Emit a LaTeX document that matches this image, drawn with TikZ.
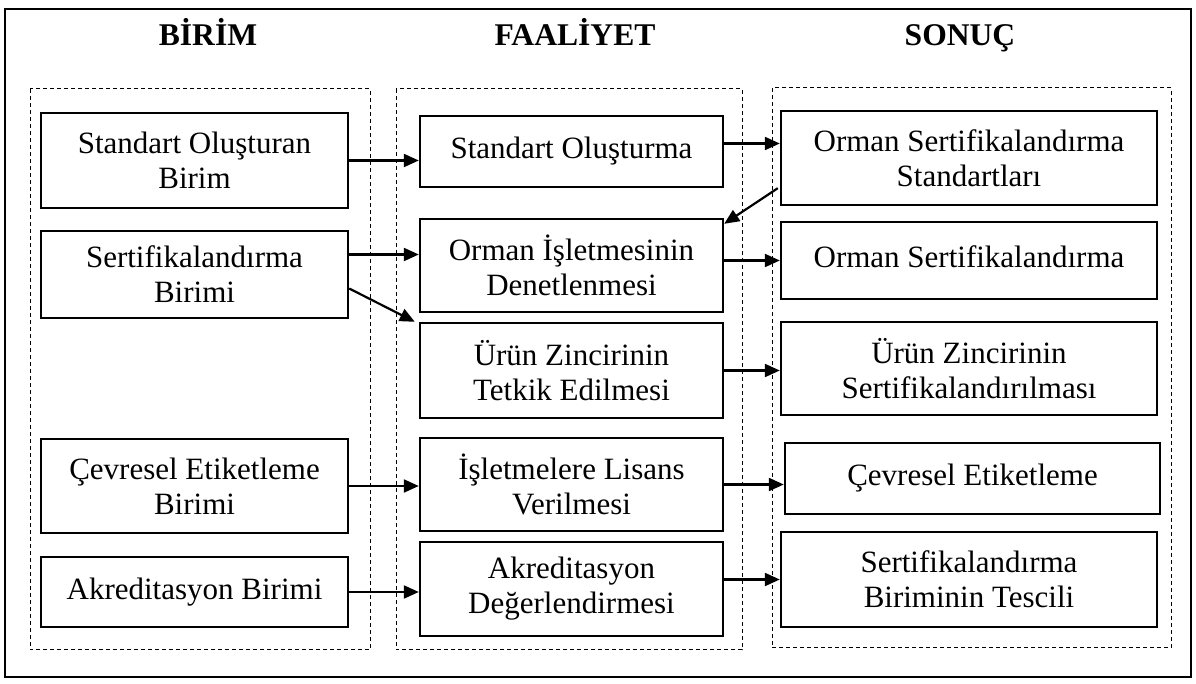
\documentclass[tikz,border=0pt]{standalone}
\usepackage{fontspec}
\setmainfont{Liberation Serif}
\usetikzlibrary{arrows.meta}
\begin{document}
\begin{tikzpicture}[x=0.5pt,y=-0.5pt,
  box/.style={draw,line width=1.2pt,align=center,inner sep=0pt,font=\fontsize{15.5}{17.5}\selectfont},
  grp/.style={draw,line width=0.5pt,dash pattern=on 2pt off 1.5pt},
  hdr/.style={anchor=base,font=\fontsize{15.8}{18}\selectfont\bfseries},
  arr/.style={line width=1.1pt,-{Triangle[length=7.5pt,width=6.5pt]}}]
\useasboundingbox (0,0) rectangle (1196,684);
\draw[line width=1.4pt] (5,9) rectangle (1191,677);
% groups
\draw[grp] (30,89) rectangle (370,650);
\draw[grp] (396,89) rectangle (742,650);
\draw[grp] (772,88) rectangle (1171,648);
% headers
\node[hdr] (h1) at (208,46) {BİRİM};
\node[hdr] (h2) at (575,46) {FAALİYET};
\node[hdr] (h3) at (960,46) {SONUÇ};
% column 1
\node[box,minimum width=153.5pt,minimum height=47.5pt] (A1) at (194.5,160.5) {Standart Oluşturan\\Birim};
\node[box,minimum width=153.5pt,minimum height=43.5pt] (A2) at (194.5,274.5) {Sertifikalandırma\\Birimi};
\node[box,minimum width=153.5pt,minimum height=47pt] (A3) at (194.5,486) {Çevresel Etiketleme\\Birimi};
\node[box,minimum width=153.5pt,minimum height=35pt] (A4) at (194.5,592) {Akreditasyon Birimi};
% column 2
\node[box,minimum width=151.5pt,minimum height=35.5pt] (B1) at (571.5,151.5) {Standart Oluşturma};
\node[box,minimum width=151.5pt,minimum height=46.5pt] (B2) at (571.5,265.5) {Orman İşletmesinin\\Denetlenmesi};
\node[box,minimum width=151.5pt,minimum height=47.5pt] (B3) at (571.5,370.5) {Ürün Zincirinin\\Tetkik Edilmesi};
\node[box,minimum width=151.5pt,minimum height=46.5pt] (B4) at (571.5,484.5) {İşletmelere Lisans\\Verilmesi};
\node[box,minimum width=151.5pt,minimum height=47pt] (B5) at (571.5,589) {Akreditasyon\\Değerlendirmesi};
% column 3
\node[box,minimum width=188pt,minimum height=47pt] (C1) at (969,158) {Orman Sertifikalandırma\\Standartları};
\node[box,minimum width=188pt,minimum height=38.5pt] (C2) at (969,260.5) {\raisebox{4pt}{Orman Sertifikalandırma}};
\node[box,minimum width=188pt,minimum height=46.5pt] (C3) at (969,368.5) {Ürün Zincirinin\\Sertifikalandırılması};
\node[box,minimum width=187.5pt,minimum height=35.5pt] (C4) at (972.5,478.5) {Çevresel Etiketleme};
\node[box,minimum width=188pt,minimum height=47.5pt] (C5) at (969,579.5) {Sertifikalandırma\\Biriminin Tescili};
% arrows
\draw[arr] (A1.east) -- (A1.east -| B1.west);
\draw[arr] ([yshift=10pt]A2.east) -- ([yshift=10pt]A2.east -| B2.west);
\draw[arr] ([yshift=-7pt]A2.east) -- ([xshift=-2pt]B3.north west);
\draw[arr] ([yshift=4pt]B1.east) -- ([yshift=4pt]B1.east -| C1.west);
\draw[arr] ([xshift=-1pt,yshift=9pt]C1.south west) -- ([yshift=-3pt]B2.north east);
\draw[arr] (C2.west -| B2.east) -- (C2.west);
\draw[arr] (B3.east) -- (B3.east -| C3.west);
\draw[arr] (A3.east) -- (A3.east -| B4.west);
\draw[arr] (B4.east) -- (B4.east -| C4.west);
\draw[arr] (A4.east) -- (A4.east -| B5.west);
\draw[arr] (C5.west -| B5.east) -- (C5.west);
\end{tikzpicture}
\end{document}
